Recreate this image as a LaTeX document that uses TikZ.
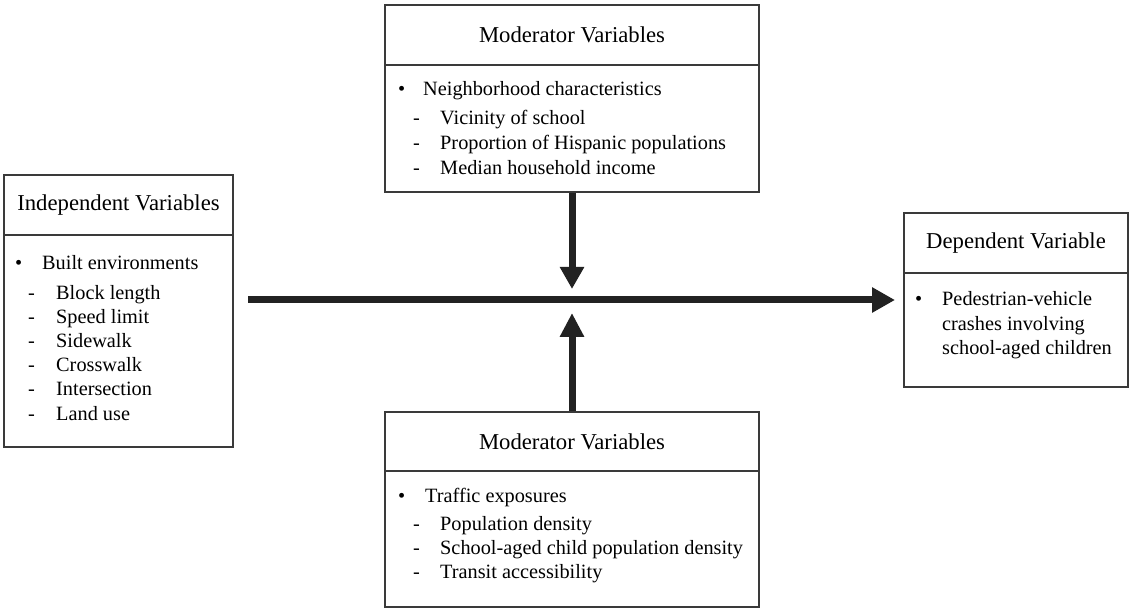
\documentclass[tikz,border=0pt]{standalone}
\usepackage{fontspec}
\setmainfont{Liberation Serif}
\usetikzlibrary{arrows.meta}
\definecolor{boxline}{HTML}{3A3A3A}
\definecolor{arrowcol}{HTML}{222222}
\tikzset{
  hdr/.style={draw=boxline, line width=2pt, rectangle, inner sep=0pt, font=\fontsize{22.7}{25}\selectfont},
  bdy/.style={draw=boxline, line width=2pt, rectangle, inner sep=0pt},
  itm/.style={anchor=west, inner sep=0pt, text height=0.7em, text depth=0.22em, font=\fontsize{20.3}{24}\selectfont},
  bigarrow/.style={draw=arrowcol, line width=7pt, -{Triangle[length=23pt,width=24pt]}},
}
\begin{document}
\begin{tikzpicture}[x=1pt,y=-1pt]
\useasboundingbox (0,0) rectangle (1133,609);
% top moderator box
\node[hdr, minimum width=374pt, minimum height=60pt] (tophdr) at (572,35) {Moderator Variables};
\node[bdy, minimum width=374pt, minimum height=127pt] (topbody) at (572,128.5) {};
\node[itm] (t1b) at (398,93) {•};
\node[itm] (t1) at (423,93) {Neighborhood characteristics};
\node[itm] (t2d) at (413,122) {-};
\node[itm] (t2) at (440,122) {Vicinity of school};
\node[itm] (t3d) at (413,147) {-};
\node[itm] (t3) at (440,147) {Proportion of Hispanic populations};
\node[itm] (t4d) at (413,172) {-};
\node[itm] (t4) at (440,172) {Median household income};
% left independent box
\node[hdr, minimum width=229pt, minimum height=60pt] (lefthdr) at (118.5,205) {Independent Variables};
\node[bdy, minimum width=229pt, minimum height=212pt] (leftbody) at (118.5,341) {};
\node[itm] (l1b) at (15,267) {•};
\node[itm] (l1) at (42,267) {Built environments};
\node[itm] (l2d) at (28,297) {-};
\node[itm] (l2) at (56,297) {Block length};
\node[itm] (l3d) at (28,321) {-};
\node[itm] (l3) at (56,321) {Speed limit};
\node[itm] (l4d) at (28,345) {-};
\node[itm] (l4) at (56,345) {Sidewalk};
\node[itm] (l5d) at (28,369) {-};
\node[itm] (l5) at (56,369) {Crosswalk};
\node[itm] (l6d) at (28,393) {-};
\node[itm] (l6) at (56,393) {Intersection};
\node[itm] (l7d) at (28,418) {-};
\node[itm] (l7) at (56,418) {Land use};
% right dependent box
\node[hdr, minimum width=224pt, minimum height=60pt] (righthdr) at (1016,243) {Dependent Variable};
\node[bdy, minimum width=224pt, minimum height=114pt] (rightbody) at (1016,330) {};
\node[itm] (r1b) at (915,303) {•};
\node[itm] (r1) at (942,303) {Pedestrian-vehicle};
\node[itm] (r2) at (942,328) {crashes involving};
\node[itm] (r3) at (942,352) {school-aged children};
% bottom moderator box
\node[hdr, minimum width=374pt, minimum height=59pt] (bothdr) at (572,441.5) {Moderator Variables};
\node[bdy, minimum width=374pt, minimum height=136pt] (botbody) at (572,539) {};
\node[itm] (b1b) at (398,500) {•};
\node[itm] (b1) at (425,500) {Traffic exposures};
\node[itm] (b2d) at (413,528) {-};
\node[itm] (b2) at (440,528) {Population density};
\node[itm] (b3d) at (413,552) {-};
\node[itm] (b3) at (440,552) {School-aged child population density};
\node[itm] (b4d) at (413,576) {-};
\node[itm] (b4) at (440,576) {Transit accessibility};
% arrows
\coordinate (hstart) at (248,300);
\coordinate (hend) at (895,300);
\coordinate (downtip) at (572,289);
\coordinate (uptip) at (572,313);
\draw[bigarrow] (hstart) -- (hend);
\draw[bigarrow, -{Triangle[length=22pt,width=23pt]}] (topbody.south) -- (downtip);
\draw[bigarrow, -{Triangle[length=24pt,width=23pt]}] (bothdr.north) -- (uptip);
\end{tikzpicture}
\end{document}
